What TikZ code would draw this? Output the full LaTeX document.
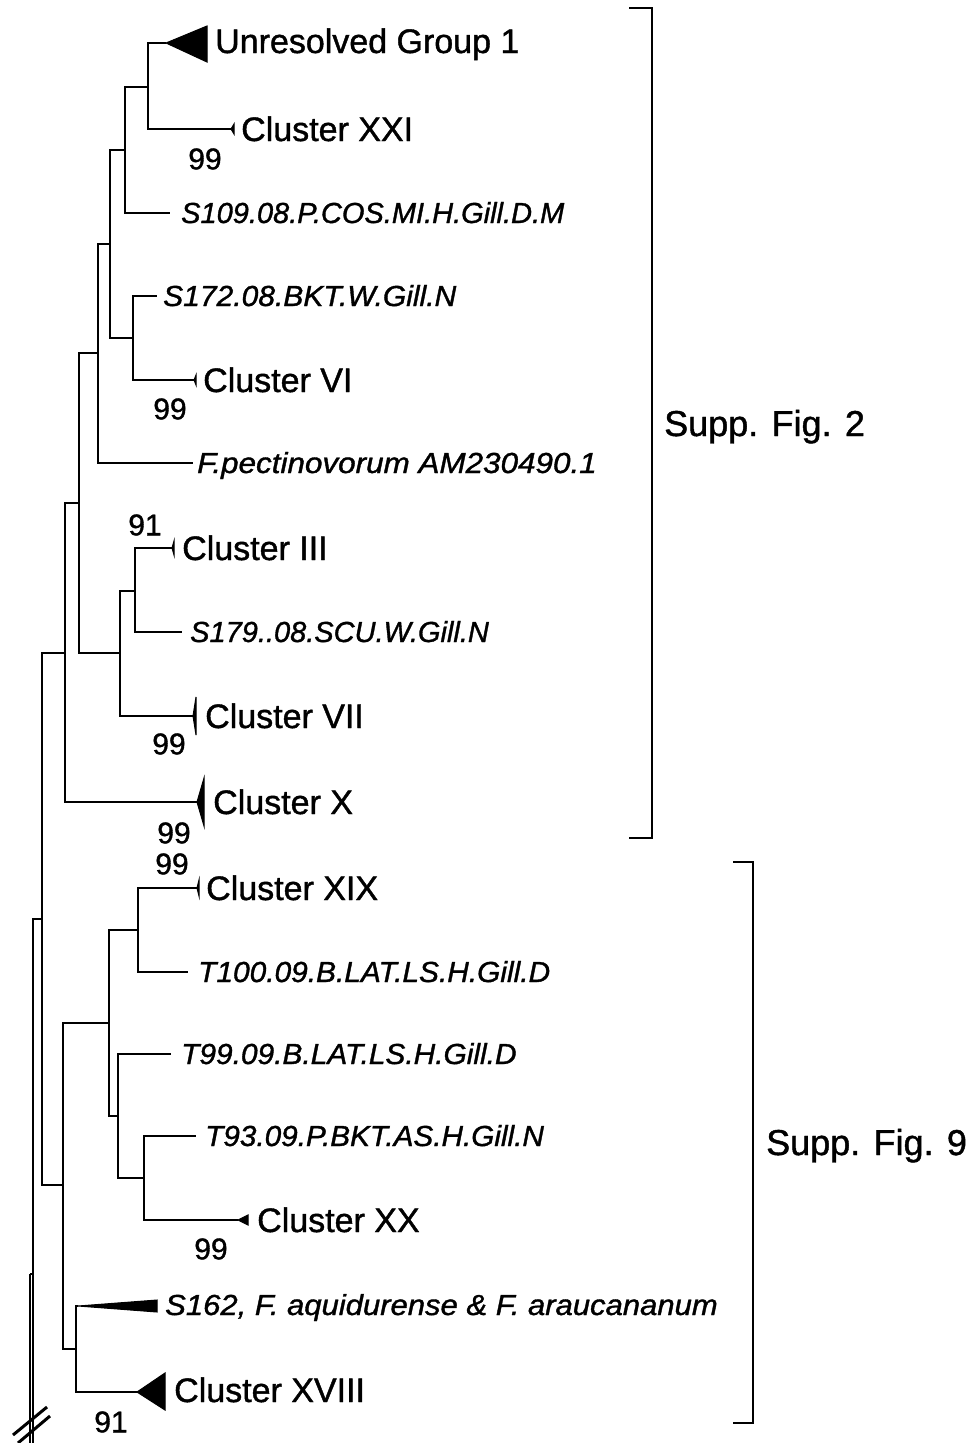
\documentclass[tikz,border=0pt]{standalone}
\usepackage{graphicx}
\usepackage{fontspec}
\setmainfont[RawFeature={embolden=1.2}]{Liberation Sans}
\begin{document}
\begin{tikzpicture}[x=1pt,y=-1pt,
  br/.style={line width=2pt},
  thinbr/.style={line width=1.3pt},
  clade/.style={fill=black,draw=black,line width=1pt,line join=miter},
  lab/.style={anchor=base west,inner sep=0pt,font=\fontsize{34}{40}\selectfont},
  ilab/.style={anchor=base west,inner sep=0pt,font=\fontsize{29}{34}\selectfont\itshape},
  boot/.style={anchor=center,inner sep=0pt,font=\fontsize{30}{34}\selectfont},
  figlab/.style={anchor=base west,inner sep=0pt,font=\fontsize{36}{42}\selectfont},
  bracket/.style={line width=2pt},
  breakmark/.style={line width=3pt}]
\useasboundingbox (0,0) rectangle (969,1443);
% leaf ends
\coordinate (ug1) at (166,43);
\coordinate (c21) at (231,129);
\coordinate (s109) at (170,213);
\coordinate (s172) at (157,296);
\coordinate (c6) at (194,380);
\coordinate (fpec) at (193,463);
\coordinate (c3) at (172,548);
\coordinate (s179) at (182,632);
\coordinate (c7) at (193,716);
\coordinate (c10) at (197,802);
\coordinate (c19) at (197,888);
\coordinate (t100) at (188,972);
\coordinate (t99) at (171,1054);
\coordinate (t93) at (196,1136);
\coordinate (c20) at (238,1220);
\coordinate (s162) at (78,1306);
\coordinate (c18) at (137,1392);
% internal nodes
\coordinate (A) at (148,87);
\coordinate (B) at (125,150);
\coordinate (C) at (133,338);
\coordinate (D) at (110,244);
\coordinate (E) at (98,353);
\coordinate (F) at (135,591);
\coordinate (G) at (120,653);
\coordinate (H) at (79,503);
\coordinate (I) at (65,653);
\coordinate (J) at (138,930);
\coordinate (K) at (144,1178);
\coordinate (L) at (118,1116);
\coordinate (M) at (109,1023);
\coordinate (N) at (76,1349);
\coordinate (O) at (63,1185);
\coordinate (P) at (42,919);
\coordinate (Q) at (33,1274);
\coordinate (R) at (30,1274);
\coordinate (qb) at (33,1443);
\coordinate (rb) at (30,1443);
% branches
\draw[br] (A) |- (ug1) (A) |- (c21);
\draw[br] (B) |- (A) (B) |- (s109);
\draw[br] (C) |- (s172) (C) |- (c6);
\draw[br] (D) |- (B) (D) |- (C);
\draw[br] (E) |- (D) (E) |- (fpec);
\draw[br] (F) |- (c3) (F) |- (s179);
\draw[br] (G) |- (F) (G) |- (c7);
\draw[br] (H) |- (E) (H) |- (G);
\draw[br] (I) |- (H) (I) |- (c10);
\draw[br] (J) |- (c19) (J) |- (t100);
\draw[br] (K) |- (t93) (K) |- (c20);
\draw[br] (L) |- (t99) (L) |- (K);
\draw[br] (M) |- (J) (M) |- (L);
\draw[br] (N) |- (76,1306) -- (s162) (N) |- (c18);
\draw[br] (O) |- (M) (O) |- (N);
\draw[br] (P) |- (I) (P) |- (O);
\draw[thinbr] (Q) |- (P) (Q) -- (qb);
\draw[thinbr] (R) -- (Q) (R) -- (rb);
% collapsed clades
\filldraw[clade] (ug1) -- ++(41,-17) -- ++(0,36) -- cycle;
\filldraw[clade] (c21) -- ++(3,-5) -- ++(0,10) -- cycle;
\filldraw[clade] (c6) -- ++(2,-5) -- ++(0,10) -- cycle;
\filldraw[clade] (c3) -- ++(2,-7) -- ++(0,14) -- cycle;
\filldraw[clade] (c7) -- ++(3,-19) -- ++(0,38) -- cycle;
\filldraw[clade] (c10) -- ++(7,-24) -- ++(0,48) -- cycle;
\filldraw[clade] (c19) -- ++(2,-8) -- ++(0,16) -- cycle;
\filldraw[clade] (c20) -- ++(10,-5) -- ++(0,10) -- cycle;
\filldraw[clade] (s162) -- (157,1300) -- (157,1312) -- cycle;
\filldraw[clade] (c18) -- ++(28,-19) -- ++(0,37) -- cycle;
% labels
\node[lab] (tug1) at (215,53) {Unresolved Group 1};
\node[lab] (tc21) at (241,141) {Cluster XXI};
\node[ilab] (ts109) at (181,223) {S109.08.P.COS.MI.H.Gill.D.M};
\node[ilab] (ts172) at (163,306) {\scalebox{1.035}[1]{S172.08.BKT.W.Gill.N}};
\node[lab] (tc6) at (203,392) {Cluster VI};
\node[ilab] (tfpec) at (197,473) {\scalebox{1.084}[1]{F.pectinovorum AM230490.1}};
\node[lab] (tc3) at (182,560) {Cluster III};
\node[ilab] (ts179) at (190,642) {S179..08.SCU.W.Gill.N};
\node[lab] (tc7) at (205,728) {Cluster VII};
\node[lab] (tc10) at (213,814) {Cluster X};
\node[lab] (tc19) at (206,900) {Cluster XIX};
\node[ilab] (tt100) at (198,982) {\scalebox{1.03}[1]{T100.09.B.LAT.LS.H.Gill.D}};
\node[ilab] (tt99) at (181,1064) {\scalebox{1.03}[1]{T99.09.B.LAT.LS.H.Gill.D}};
\node[ilab] (tt93) at (205,1146) {\scalebox{1.025}[1]{T93.09.P.BKT.AS.H.Gill.N}};
\node[lab] (tc20) at (257,1232) {Cluster XX};
\node[ilab] (ts162) at (165,1315) {\scalebox{1.07}[1]{S162, F. aquidurense \& F. araucananum}};
\node[lab] (tc18) at (174,1402) {Cluster XVIII};
% bootstrap values
\node[boot] (b1) at (205,159) {99};
\node[boot] (b2) at (170,409) {99};
\node[boot] (b3) at (145,525) {91};
\node[boot] (b4) at (169,744) {99};
\node[boot] (b5) at (174,833) {99};
\node[boot] (b6) at (172,864) {99};
\node[boot] (b7) at (211,1249) {99};
\node[boot] (b8) at (111,1422) {91};
% brackets
\coordinate (k2a) at (629,8);
\coordinate (k2b) at (652,8);
\coordinate (k2c) at (652,838);
\coordinate (k2d) at (629,838);
\draw[bracket] (k2a) -- (k2b) -- (k2c) -- (k2d);
\coordinate (k9a) at (733,862);
\coordinate (k9b) at (753,862);
\coordinate (k9c) at (753,1423);
\coordinate (k9d) at (733,1423);
\draw[bracket] (k9a) -- (k9b) -- (k9c) -- (k9d);
\node[figlab] (f2) at (664,436) {Supp. Fig. 2};
\node[figlab] (f9) at (766,1155) {Supp. Fig. 9};
% break mark
\coordinate (m1a) at (13,1435);
\coordinate (m1b) at (47,1407);
\coordinate (m2a) at (18,1443);
\coordinate (m2b) at (50,1416);
\draw[breakmark] (m1a) -- (m1b) (m2a) -- (m2b);
\end{tikzpicture}
\end{document}
